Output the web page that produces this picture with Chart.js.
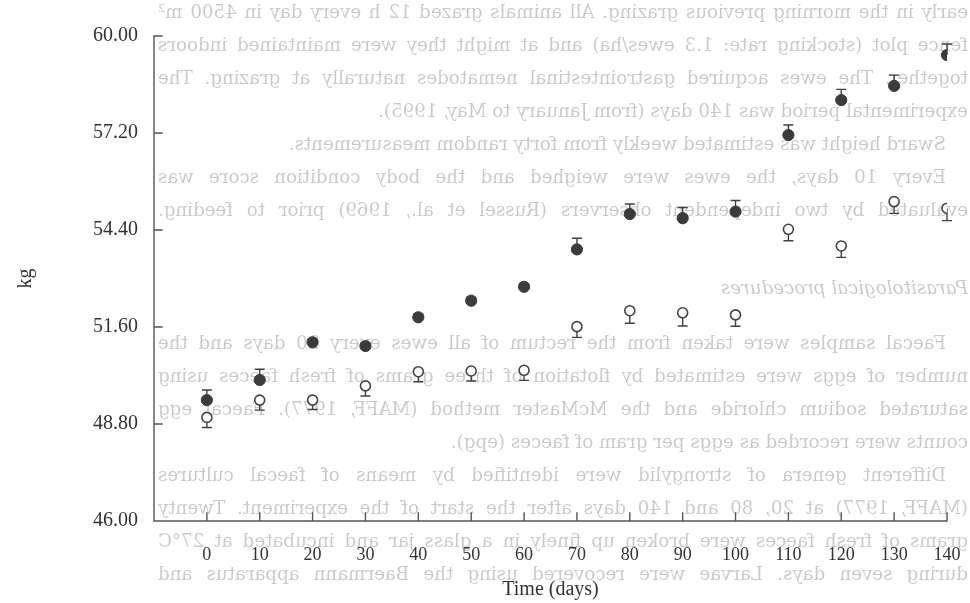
<!DOCTYPE html>
<html><head><meta charset="utf-8">
<script src="https://cdn.jsdelivr.net/npm/chart.js@4.4.1/dist/chart.umd.min.js"></script>
<style>html,body{margin:0;padding:0;background:#fff;}#wrap{width:970px;height:603px;}</style>
</head><body><div id="wrap"><canvas id="c" width="970" height="603"></canvas></div>
<script>
// ---- data ----
const days = [0, 10, 20, 30, 40, 50, 60, 70, 80, 90, 100, 110, 120, 130, 140];
const filledMean = [49.49, 50.07, 51.16, 51.05, 51.88, 52.36, 52.76, 53.84, 54.86, 54.74, 54.93, 57.14, 58.15, 58.56, 59.45];
const filledErr  = [0.29, 0.31, 0.10, 0.10, 0.10, 0.10, 0.10, 0.32, 0.29, 0.31, 0.32, 0.29, 0.31, 0.31, 0.32];
const openMean   = [48.99, 49.49, 49.49, 49.90, 50.31, 50.33, 50.35, 51.61, 52.07, 52.01, 51.95, 54.42, 53.94, 55.22, 55.03];
const openErr    = [0.29, 0.29, 0.27, 0.29, 0.29, 0.29, 0.29, 0.31, 0.36, 0.38, 0.33, 0.33, 0.33, 0.34, 0.36];
const yTicks = [46.00, 48.80, 51.60, 54.40, 57.20, 60.00];
const xTicks = [0, 10, 20, 30, 40, 50, 60, 70, 80, 90, 100, 110, 120, 130, 140];
const xTitle = 'Time (days)';
const yTitle = 'kg';

// faint show-through text of the page's reverse side (seen mirrored)
const pageText = [
  'early in the morning previous grazing. All animals grazed 12 h every day in 4500 m²',
  'fence plot (stocking rate: 1.3 ewes/ha) and at might they were maintained indoors',
  'together. The ewes acquired gastrointestinal nematodes naturally at grazing. The',
  'experimental period was 140 days (from January to May, 1995).',
  'Sward height was estimated weekly from forty random measurements.',
  'Every 10 days, the ewes were weighed and the body condition score was',
  'evaluated by two independent observers (Russel et al., 1969) prior to feeding.',
  'Parasitological procedures',
  'Faecal samples were taken from the rectum of all ewes every 20 days and the',
  'number of eggs were estimated by flotation of three grams of fresh faeces using',
  'saturated sodium chloride and the McMaster method (MAFF, 1977). Faecal egg',
  'counts were recorded as eggs per gram of faeces (epg).',
  'Different genera of strongylid were identified by means of faecal cultures',
  '(MAFF, 1977) at 20, 80 and 140 days after the start of the experiment. Twenty',
  'grams of fresh faeces were broken up finely in a glass jar and incubated at 27°C',
  'during seven days. Larvae were recovered using the Baermann apparatus and'
];
// layout of those lines: row on the page grid, indent, justified, italic
const pageLayout = [
  [0, 0, 1, 0], [1, 0, 1, 0], [2, 0, 1, 0], [3, 0, 0, 0], [4, 1, 0, 0], [5, 1, 1, 0], [6, 0, 1, 0],
  [8.35, 0, 0, 1],
  [10, 1, 1, 0], [11, 0, 1, 0], [12, 0, 1, 0], [13, 0, 0, 0], [14, 1, 1, 0], [15, 0, 1, 0], [16, 0, 1, 0], [17, 0, 1, 0]
];

const INK = '#3b3b3b';
const SERIF = "'Liberation Serif', 'Times New Roman', serif";

const pagePlugin = {
  id: 'pagePlugin',
  beforeDraw(chart) {
    const ctx = chart.ctx;
    const right = 968, left = 158, top = 13, step = 33.1, indent = 22;
    const full = right - left;
    ctx.save();
    ctx.fillStyle = 'rgba(0,0,0,0.21)';
    ctx.textBaseline = 'middle';
    ctx.font = "20px 'DejaVu Serif'";
    const ref = ctx.measureText(pageText[0]).width;
    const size = 20 * (full * 0.965) / ref;
    pageText.forEach((txt, i) => {
      const [row, ind, just, ital] = pageLayout[i];
      ctx.font = (ital ? 'italic ' : '') + size.toFixed(2) + "px 'DejaVu Serif'";
      const words = txt.split(' ');
      const avail = full - (ind ? indent : 0);
      const ww = words.map(w => ctx.measureText(w).width);
      const sp = ctx.measureText(' ').width;
      const sum = ww.reduce((a, b) => a + b, 0);
      const gap = just ? (avail - sum) / (words.length - 1) : sp;
      ctx.save();
      ctx.translate(right - (ind ? indent : 0), top + row * step);
      ctx.scale(-1, 1);
      let x = 0;
      words.forEach((w, k) => { ctx.fillText(w, x, 0); x += ww[k] + gap; });
      ctx.restore();
    });
    ctx.restore();
  }
};

const axisPlugin = {
  id: 'axisPlugin',
  afterDraw(chart) {
    const ctx = chart.ctx, xs = chart.scales.x, ys = chart.scales.y;
    const x0 = xs.getPixelForValue(xs.min), x1 = xs.getPixelForValue(xs.max);
    const y0 = ys.getPixelForValue(ys.min), y1 = ys.getPixelForValue(ys.max);
    ctx.save();
    ctx.strokeStyle = '#555'; ctx.lineWidth = 1.4; ctx.lineCap = 'square';
    ctx.beginPath();
    ctx.moveTo(x0, y1); ctx.lineTo(x0, y0); ctx.lineTo(x1, y0);
    yTicks.forEach(v => { const p = ys.getPixelForValue(v); ctx.moveTo(x0, p); ctx.lineTo(x0 + 8, p); });
    xTicks.forEach(v => { const p = xs.getPixelForValue(v); ctx.moveTo(p, y0); ctx.lineTo(p, y0 - 8); });
    ctx.stroke();
    ctx.restore();
  }
};

const errPlugin = {
  id: 'errPlugin',
  beforeDatasetsDraw(chart) {
    const ctx = chart.ctx, xs = chart.scales.x, ys = chart.scales.y;
    ctx.save();
    ctx.strokeStyle = '#404040'; ctx.lineWidth = 1.4;
    chart.data.datasets.forEach(ds => {
      ds.data.forEach((pt, i) => {
        const e = ds.errors[i];
        const px = xs.getPixelForValue(pt.x);
        const pc = ys.getPixelForValue(pt.y);
        const pe = ys.getPixelForValue(pt.y + ds.errSign * e);
        ctx.beginPath();
        ctx.moveTo(px, pc); ctx.lineTo(px, pe);
        ctx.moveTo(px - 5, pe); ctx.lineTo(px + 5, pe);
        ctx.stroke();
      });
    });
    ctx.restore();
  }
};

new Chart(document.getElementById('c'), {
  type: 'scatter',
  data: {
    datasets: [
      { label: 'A', data: days.map((d, i) => ({ x: d, y: filledMean[i] })), errors: filledErr, errSign: 1,
        pointRadius: 5.6, pointBackgroundColor: INK, pointBorderColor: INK, pointBorderWidth: 1 },
      { label: 'B', data: days.map((d, i) => ({ x: d, y: openMean[i] })), errors: openErr, errSign: -1,
        pointRadius: 5, pointBackgroundColor: '#ffffff', pointBorderColor: '#444', pointBorderWidth: 1.6 }
    ]
  },
  options: {
    responsive: false, animation: false, devicePixelRatio: 1,
    layout: { padding: { left: 0, right: 23, top: 36, bottom: 0 } },
    plugins: { legend: { display: false }, tooltip: { enabled: false } },
    scales: {
      x: {
        type: 'linear', min: -10, max: 140,
        afterBuildTicks: s => { s.ticks = xTicks.map(v => ({ value: v })); },
        grid: { display: false, drawTicks: false }, border: { display: false },
        ticks: { color: '#333', font: { family: SERIF, size: 18 }, padding: 23, maxRotation: 0, autoSkip: false },
        title: { display: true, text: xTitle, color: '#333', font: { family: SERIF, size: 20 }, padding: { top: 0, bottom: 1 } },
        afterFit: s => { s.height = 82; s.paddingRight = 0; s.paddingLeft = 0; }
      },
      y: {
        type: 'linear', min: 46, max: 60,
        afterBuildTicks: s => { s.ticks = yTicks.map(v => ({ value: v })); },
        grid: { display: false, drawTicks: false }, border: { display: false },
        ticks: { color: '#333', font: { family: SERIF, size: 20 }, padding: 16, callback: v => Number(v).toFixed(2) },
        title: { display: true, text: yTitle, color: '#333', font: { family: SERIF, size: 20 }, padding: { top: 14, bottom: 0 } },
        afterFit: s => { s.width = 154; }
      }
    }
  },
  plugins: [pagePlugin, axisPlugin, errPlugin]
});
</script>
</body></html>
